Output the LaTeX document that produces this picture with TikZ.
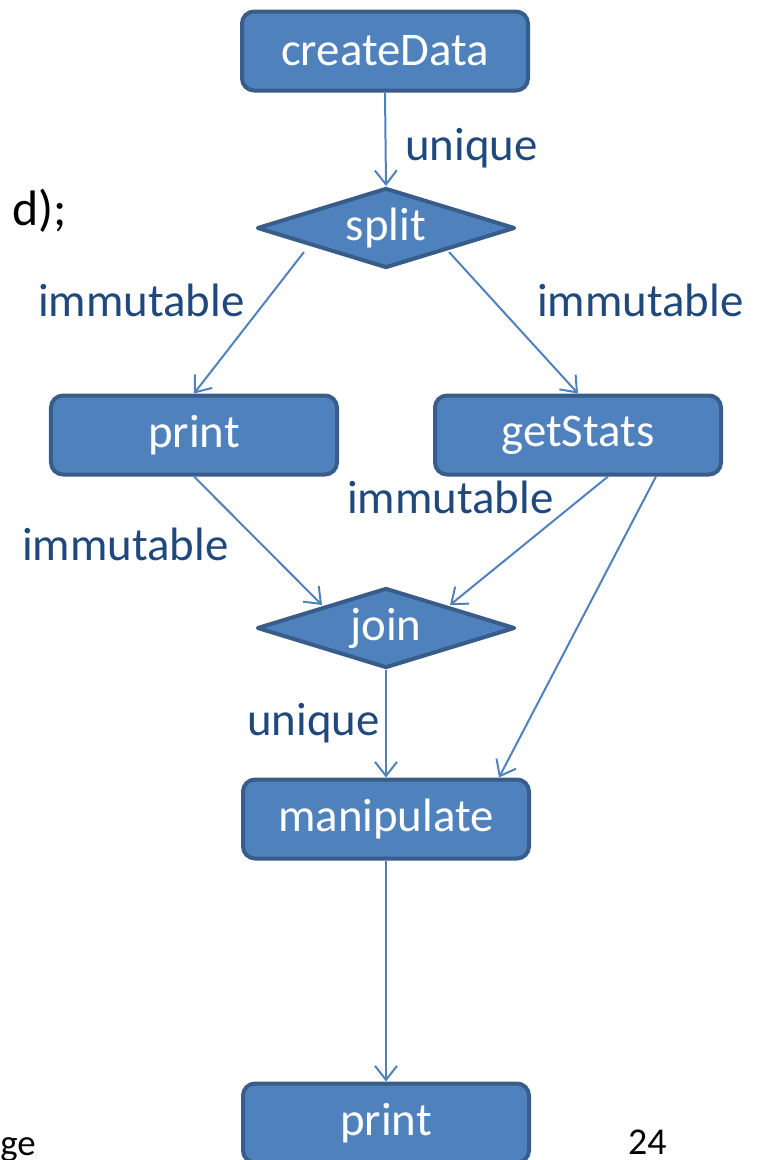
\documentclass[tikz,border=0pt]{standalone}
\usepackage{fontspec}
\setmainfont{Carlito}
\usetikzlibrary{shapes.geometric,arrows.meta}

\definecolor{boxFill}{RGB}{79,129,189}
\definecolor{boxLine}{RGB}{56,93,138}
\definecolor{labelBlue}{RGB}{31,73,125}

\def\boxWidth{286bp}
\def\boxHeight{79bp}
\def\decWidth{258bp}
\def\decHeight{80bp}

\tikzset{
    stepbox/.style = {draw = boxLine, fill = boxFill, line width = 4bp,
        rounded corners = 12bp, minimum width = \boxWidth,
        minimum height = \boxHeight, inner sep = 0pt, text = white,
        font = \fontsize{47}{56}\selectfont},
    decision/.style = {diamond, aspect = 3, draw = boxLine, fill = boxFill,
        line width = 4bp, line join = round, minimum width = \decWidth,
        minimum height = \decHeight, inner sep = 0pt, text = white,
        font = \fontsize{47}{56}\selectfont},
    flow/.style = {draw = boxFill, line width = 2bp,
        -{Straight Barb[length = 14bp, width = 22bp]}},
    tag/.style = {anchor = base west, inner sep = 0pt, text = labelBlue,
        font = \fontsize{47}{56}\selectfont},
}

\begin{document}
\begin{tikzpicture}[x = 1bp, y = -1bp]
            \useasboundingbox (0,0) rectangle (762,1160);

            % stages of the pipeline
            \node [stepbox] (createData) at (385,51) {createData};
            \node [decision] (split) at (386,228) {split};
            \node [stepbox] (printA) at (194,435) {print};
            \node [stepbox] (getStats) at (578,435) {getStats};
            \node [decision] (join) at (386,628) {join};
            \node [stepbox] (manipulate) at (386,819) {manipulate};
            \node [stepbox] (printB) at (386,1123) {print};

            % ownership of each hand-off
            \node [tag] (tagCreate) at (405,160) {unique};
            \node [tag] (tagSplitL) at (38,316) {immutable};
            \node [tag] (tagSplitR) at (537,316) {immutable};
            \node [tag] (tagStats) at (347,513) {immutable};
            \node [tag] (tagPrint) at (22,560) {immutable};
            \node [tag] (tagJoin) at (247,735) {unique};

            \draw [flow] (createData.south) -- (split.north);
            \draw [flow] ([shift = {(-82,24)}]split.center) -- (printA.north);
            \draw [flow] ([shift = {(63,24)}]split.center) -- (getStats.north);
            \draw [flow] (printA.south) -- ([shift = {(-64,-23)}]join.center);
            \draw [flow] ([xshift = 30bp]getStats.south)
                -- ([shift = {(64,-23)}]join.center);
            \draw [flow] ([xshift = 78bp]getStats.south)
                -- ([xshift = 113bp]manipulate.north);
            \draw [flow] (join.south) -- (manipulate.north);
            \draw [flow] (manipulate.south) -- (printB.north);

            % leftovers of the slide
            \node [anchor = base west, inner sep = 0pt,
                font = \fontsize{50}{60}\selectfont] (codeEnd) at (12,225) {d);};
            \node [anchor = base east, inner sep = 0pt,
                font = \fontsize{37}{44}\selectfont] (footer) at (36,1155) {ge};
            \node [anchor = base west, inner sep = 0pt,
                font = \fontsize{38}{46}\selectfont] (pageNo) at (628,1154) {24};
        \end{tikzpicture}
\end{document}
